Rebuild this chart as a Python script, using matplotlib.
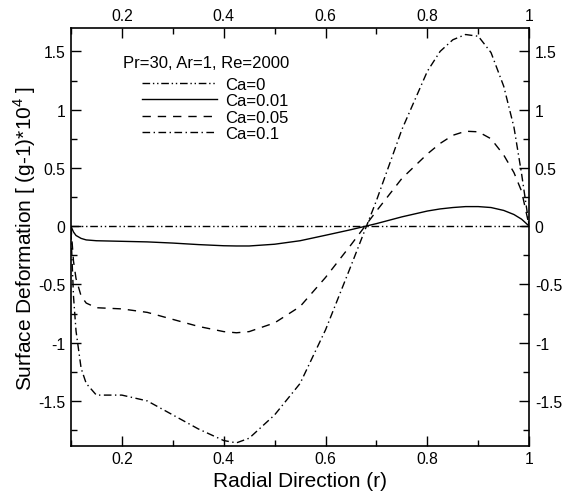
import matplotlib
matplotlib.use('Agg')
import matplotlib.pyplot as plt
from matplotlib.ticker import MultipleLocator, FuncFormatter

plt.rcParams['font.family'] = ['Liberation Sans', 'DejaVu Sans']
plt.rcParams['mathtext.fontset'] = 'custom'
plt.rcParams['mathtext.rm'] = 'Liberation Sans'

# radial positions where values were read
r = [0.1, 0.105, 0.11, 0.12, 0.13, 0.15, 0.2, 0.25, 0.3, 0.35, 0.4, 0.425, 0.45,
     0.5, 0.55, 0.6, 0.65, 0.7, 0.75, 0.8, 0.825, 0.85, 0.875, 0.9, 0.925,
     0.95, 0.97, 0.985, 1.0]

ca_0 = [0.0] * len(r)
ca_001 = [0.0, -0.05, -0.08, -0.105, -0.118, -0.125, -0.13, -0.135, -0.145, -0.158,
          -0.168, -0.17, -0.17, -0.155, -0.125, -0.078, -0.03, 0.022, 0.08, 0.13,
          0.148, 0.16, 0.168, 0.168, 0.16, 0.135, 0.1, 0.06, 0.0]
ca_005 = [0.0, -0.3, -0.45, -0.6, -0.66, -0.7, -0.71, -0.74, -0.8, -0.86,
          -0.905, -0.915, -0.905, -0.83, -0.69, -0.44, -0.16, 0.13, 0.41, 0.62,
          0.71, 0.78, 0.815, 0.81, 0.75, 0.61, 0.46, 0.3, 0.0]
ca_01 = [-0.05, -0.6, -0.9, -1.22, -1.35, -1.45, -1.45, -1.5, -1.62, -1.74,
         -1.84, -1.86, -1.82, -1.62, -1.35, -0.89, -0.34, 0.22, 0.83, 1.33,
         1.5, 1.6, 1.645, 1.63, 1.49, 1.2, 0.85, 0.45, 0.0]

labels = ['Ca=0', 'Ca=0.01', 'Ca=0.05', 'Ca=0.1']
series = [ca_0, ca_001, ca_005, ca_01]
styles = [(0, (5.5, 2, 1, 2, 1, 2)), '-', (0, (6, 5)), (0, (5.5, 2.5, 1, 2.5))]
title = 'Pr=30, Ar=1, Re=2000'

fig = plt.figure(figsize=(5.63, 5.02), dpi=100)
ax = fig.add_axes([0.126, 0.11, 0.814, 0.832])

for y, lab, ls in zip(series, labels, styles):
    ax.plot(r, y, color='black', lw=1.0, linestyle=ls, label=lab)

ax.set_xlim(0.1, 1.0)
ax.set_ylim(-1.885, 1.70)

ax.xaxis.set_major_locator(MultipleLocator(0.2))
ax.xaxis.set_minor_locator(MultipleLocator(0.1))
ax.yaxis.set_major_locator(MultipleLocator(0.5))
ax.yaxis.set_minor_locator(MultipleLocator(0.25))
fmt = FuncFormatter(lambda v, p: ('%g' % round(v, 3)))
ax.xaxis.set_major_formatter(fmt)
ax.yaxis.set_major_formatter(fmt)

ax.tick_params(which='both', direction='in', top=True, right=True,
               labeltop=True, labelright=True, labelsize=11.3, width=1.0, pad=4)
ax.tick_params(which='major', length=7)
ax.tick_params(which='minor', length=4.3)
for s in ax.spines.values():
    s.set_linewidth(1.2)

ax.set_xlabel('Radial Direction (r)', fontsize=15, labelpad=3)
ax.set_ylabel(r'Surface Deformation [ (g-1)*10$^4$ ]', fontsize=15, labelpad=0)

# parameter line above the legend entries
ax.text(0.1135, 0.918, title, transform=ax.transAxes, ha='left', va='center',
        fontsize=12)
ax.legend(loc='upper left', bbox_to_anchor=(0.155, 0.883), frameon=False,
          fontsize=12, handlelength=4.5, handletextpad=0.5, labelspacing=0.08,
          borderpad=0, borderaxespad=0)

fig.savefig('out.png', dpi=100)
